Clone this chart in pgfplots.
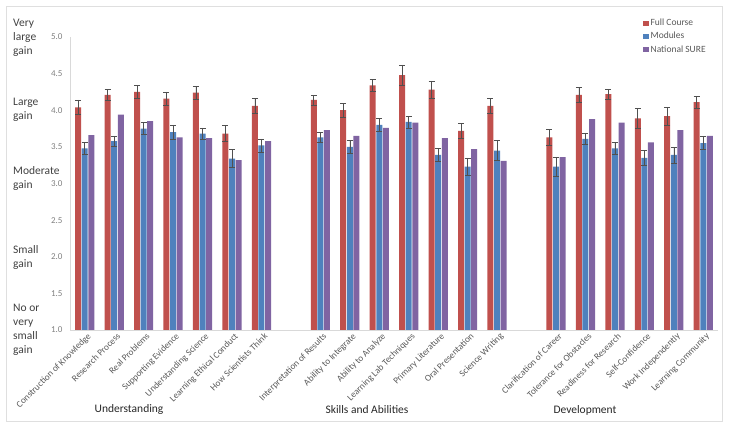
\documentclass[border=0pt]{standalone}
\usepackage{pgfplots}
\usepackage{pgfplotstable}
\pgfplotsset{compat=1.18}
\usepackage{fontspec}
\setmainfont{Carlito}
\definecolor{cRed}{HTML}{C0504D}
\definecolor{cBlue}{HTML}{4F81BD}
\definecolor{cPurple}{HTML}{8064A2}
\definecolor{tickgray}{HTML}{808080}
\definecolor{labgray}{HTML}{595959}
\definecolor{txtdark}{HTML}{404040}
\definecolor{errgray}{HTML}{505050}

\pgfplotstableread{
x y e
0 4.04 0.10
1 4.21 0.08
2 4.25 0.09
3 4.16 0.09
4 4.24 0.09
5 3.68 0.11
6 4.06 0.10
8 4.14 0.07
9 4.00 0.09
10 4.34 0.08
11 4.48 0.14
12 4.28 0.12
13 3.72 0.10
14 4.06 0.10
16 3.63 0.11
17 4.21 0.10
18 4.22 0.07
19 3.89 0.13
20 3.92 0.12
21 4.11 0.08
}\fullcourse

\pgfplotstableread{
x y e
0 3.48 0.08
1 3.58 0.07
2 3.75 0.08
3 3.70 0.10
4 3.68 0.08
5 3.34 0.12
6 3.52 0.09
8 3.63 0.07
9 3.50 0.09
10 3.80 0.09
11 3.84 0.08
12 3.39 0.09
13 3.23 0.12
14 3.45 0.14
16 3.23 0.13
17 3.61 0.08
18 3.48 0.08
19 3.35 0.10
20 3.39 0.11
21 3.55 0.09
}\modules

\pgfplotstableread{
x y
0 3.66
1 3.94
2 3.85
3 3.63
4 3.62
5 3.32
6 3.58
8 3.73
9 3.65
10 3.76
11 3.83
12 3.62
13 3.47
14 3.31
16 3.36
17 3.88
18 3.83
19 3.56
20 3.73
21 3.65
}\national

\begin{document}
\begin{tikzpicture}
\path[use as bounding box] (0pt,0pt) rectangle (732pt,430pt);
\draw[gray!25, line width=0.8pt] (6pt,9pt) rectangle (722pt,424pt);
\begin{axis}[
  at={(70pt,100pt)}, anchor=south west,
  scale only axis, width=648pt, height=293pt,
  xmin=-0.5, xmax=21.5, ymin=1, ymax=5,
  ybar=0.6pt, bar width=6pt,
  axis x line*=bottom, axis y line*=left,
  axis line style={draw=gray!30, line width=0.8pt},
  major tick length=0pt,
  ytick={1,1.5,2,2.5,3,3.5,4,4.5,5},
  /pgf/number format/assume math mode=true,
  yticklabel style={/pgf/number format/.cd, fixed, fixed zerofill, precision=1, /tikz/.cd,
    font=\fontsize{9}{10}\selectfont, text=tickgray, xshift=-4pt},
  xtick={0,1,2,3,4,5,6,8,9,10,11,12,13,14,16,17,18,19,20,21},
  xticklabels={Construction of Knowledge, Research Process, Real Problems, Supporting Evidence,
    Understanding Science, Learning Ethical Conduct, How Scientists Think,
    Interpretation of Results, Ability to Integrate, Ability to Analyze, Learning Lab Techniques,
    Primary Literature, Oral Presentation, Science Writing,
    Clarification of Career, Tolerance for Obstacles, Readiness for Research, Self-Confidence,
    Work Independently, Learning Community},
  xticklabel style={rotate=45, anchor=north east, font=\fontsize{9.2}{10}\selectfont, text=labgray,
    inner sep=1pt, yshift=-2pt, xshift=1pt},
  legend style={at={(0.884,1.068)}, anchor=north west, draw=none, fill=none,
    font=\fontsize{9.5}{10}\selectfont, text=labgray, row sep=1pt, inner sep=0pt,
    /tikz/every even column/.append style={column sep=1pt}},
  legend cell align=left,
  legend image code/.code={\fill[#1] (0pt,-2.8pt) rectangle (5.6pt,2.8pt);},
  error bars/error bar style={errgray, line width=0.6pt},
  error bars/error mark options={rotate=90, mark size=3pt, line width=0.6pt, errgray},
]
\addplot[fill=cRed, draw=none, error bars/.cd, y dir=both, y explicit]
  table[x=x, y=y, y error=e] {\fullcourse};
\addlegendentry{Full Course}
\addplot[fill=cBlue, draw=none, error bars/.cd, y dir=both, y explicit]
  table[x=x, y=y, y error=e] {\modules};
\addlegendentry{Modules}
\addplot[fill=cPurple, draw=none]
  table[x=x, y=y] {\national};
\addlegendentry{National SURE}
\end{axis}
\begin{scope}[every node/.style={font=\fontsize{11.5}{14}\selectfont, text=txtdark, align=left, anchor=west, inner sep=0pt}]
\node at (13pt,392pt) {Very\\large\\gain};
\node at (13pt,320pt) {Large\\gain};
\node at (13pt,251pt) {Moderate\\gain};
\node at (13pt,172pt) {Small\\gain};
\node at (13pt,100pt) {No or\\very\\small\\gain};
\end{scope}
\begin{scope}[every node/.style={font=\fontsize{11.5}{14}\selectfont, text=black!85, inner sep=0pt}]
\node at (129pt,20pt) {Understanding};
\node at (367pt,20pt) {Skills and Abilities};
\node at (585pt,20pt) {Development};
\end{scope}
\end{tikzpicture}
\end{document}
